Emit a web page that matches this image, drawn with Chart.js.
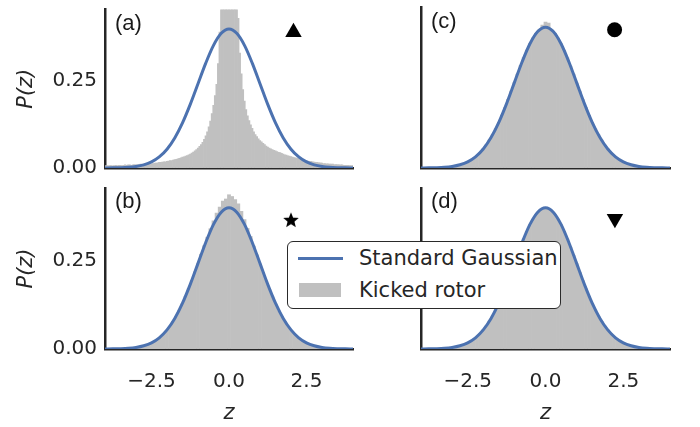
<!DOCTYPE html>
<html>
<head>
<meta charset="utf-8">
<script src="https://cdn.jsdelivr.net/npm/chart.js@4/dist/chart.umd.min.js"></script>
<style>
  body { margin: 0; background: #fff; }
  #wrap { position: relative; width: 700px; height: 427px; }
  #wrap canvas { position: absolute; left: 0; top: 0; }
  #legend {
    position: absolute; left: 287px; top: 241px; width: 272px; height: 66px;
    border: 1.2px solid #2a2a2a; border-radius: 6px; background: #fff;
    font-family: "DejaVu Sans"; font-size: 21px; color: #262626;
  }
  #legend .row { position: absolute; left: 71px; white-space: nowrap; line-height: 25px; }
  #legend .line { position: absolute; left: 10px; top: 15px; width: 45px; height: 3px; background: #4c72b0; }
  #legend .patch { position: absolute; left: 11px; top: 41px; width: 42px; height: 14px; background: #c0c0c0; }
</style>
</head>
<body>
<div id="wrap">
  <canvas id="ca" width="700" height="427"></canvas>
  <canvas id="cb" width="700" height="427"></canvas>
  <canvas id="cc" width="700" height="427"></canvas>
  <canvas id="cd" width="700" height="427"></canvas>
  <div id="legend">
    <div class="line"></div>
    <div class="row" style="top:4px">Standard Gaussian</div>
    <div class="patch"></div>
    <div class="row" style="top:36px">Kicked rotor</div>
  </div>
</div>
<script>
// histogram bin centres, step 0.1 (panels b, c, d)
const zBins = [-4.0, -3.9, -3.8, -3.7, -3.6, -3.5, -3.4, -3.3, -3.2, -3.1,
  -3.0, -2.9, -2.8, -2.7, -2.6, -2.5, -2.4, -2.3, -2.2, -2.1,
  -2.0, -1.9, -1.8, -1.7, -1.6, -1.5, -1.4, -1.3, -1.2, -1.1,
  -1.0, -0.9, -0.8, -0.7, -0.6, -0.5, -0.4, -0.3, -0.2, -0.1,
  0.0, 0.1, 0.2, 0.3, 0.4, 0.5, 0.6, 0.7, 0.8, 0.9,
  1.0, 1.1, 1.2, 1.3, 1.4, 1.5, 1.6, 1.7, 1.8, 1.9,
  2.0, 2.1, 2.2, 2.3, 2.4, 2.5, 2.6, 2.7, 2.8, 2.9,
  3.0, 3.1, 3.2, 3.3, 3.4, 3.5, 3.6, 3.7, 3.8, 3.9, 4.0];

// finer bin centres, step 0.05 (panel a, sharp peak)
const zBinsFine = [-4.00, -3.95, -3.90, -3.85, -3.80, -3.75, -3.70, -3.65, -3.60, -3.55,
  -3.50, -3.45, -3.40, -3.35, -3.30, -3.25, -3.20, -3.15, -3.10, -3.05,
  -3.00, -2.95, -2.90, -2.85, -2.80, -2.75, -2.70, -2.65, -2.60, -2.55,
  -2.50, -2.45, -2.40, -2.35, -2.30, -2.25, -2.20, -2.15, -2.10, -2.05,
  -2.00, -1.95, -1.90, -1.85, -1.80, -1.75, -1.70, -1.65, -1.60, -1.55,
  -1.50, -1.45, -1.40, -1.35, -1.30, -1.25, -1.20, -1.15, -1.10, -1.05,
  -1.00, -0.95, -0.90, -0.85, -0.80, -0.75, -0.70, -0.65, -0.60, -0.55,
  -0.50, -0.45, -0.40, -0.35, -0.30, -0.25, -0.20, -0.15, -0.10, -0.05,
  0.00, 0.05, 0.10, 0.15, 0.20, 0.25, 0.30, 0.35, 0.40, 0.45,
  0.50, 0.55, 0.60, 0.65, 0.70, 0.75, 0.80, 0.85, 0.90, 0.95,
  1.00, 1.05, 1.10, 1.15, 1.20, 1.25, 1.30, 1.35, 1.40, 1.45,
  1.50, 1.55, 1.60, 1.65, 1.70, 1.75, 1.80, 1.85, 1.90, 1.95,
  2.00, 2.05, 2.10, 2.15, 2.20, 2.25, 2.30, 2.35, 2.40, 2.45,
  2.50, 2.55, 2.60, 2.65, 2.70, 2.75, 2.80, 2.85, 2.90, 2.95,
  3.00, 3.05, 3.10, 3.15, 3.20, 3.25, 3.30, 3.35, 3.40, 3.45,
  3.50, 3.55, 3.60, 3.65, 3.70, 3.75, 3.80, 3.85, 3.90, 3.95, 4.00];

// kicked rotor histograms, one per panel
const histA = [.006, .007, .006, .007, .007, .006, .007, .008, .007, .008,
  .008, .007, .008, .009, .008, .009, .009, .008, .009, .010,
  .009, .010, .010, .011, .010, .011, .012, .011, .012, .013,
  .012, .013, .014, .014, .015, .016, .016, .017, .018, .018,
  .019, .020, .021, .021, .023, .024, .025, .026, .028, .029,
  .031, .032, .034, .036, .038, .040, .043, .046, .049, .053,
  .057, .062, .067, .074, .082, .092, .104, .118, .135, .156,
  .180, .208, .240, .300, .390, .520, .700, .950, 1.30, 1.70,
  1.90, 1.80, 1.50, 1.10, .800, .600, .430, .330, .270, .225,
  .192, .168, .150, .136, .124, .114, .104, .096, .090, .084,
  .079, .075, .071, .067, .063, .060, .057, .055, .053, .051,
  .049, .047, .045, .044, .042, .040, .038, .037, .035, .034,
  .033, .031, .030, .029, .028, .027, .026, .024, .023, .022,
  .021, .020, .019, .019, .018, .017, .016, .016, .015, .015,
  .014, .013, .013, .012, .012, .011, .011, .011, .010, .010,
  .010, .009, .009, .009, .008, .008, .008, .008, .007, .007, .007];
const histB = [.000, .000, .000, .001, .001, .001, .001, .002, .002, .003,
  .004, .006, .007, .010, .013, .017, .021, .027, .034, .043,
  .052, .064, .078, .092, .110, .128, .149, .171, .193, .218,
  .241, .268, .292, .316, .340, .362, .384, .401, .418, .424,
  .436, .431, .422, .410, .389, .366, .341, .318, .291, .266,
  .240, .216, .192, .169, .147, .127, .108, .092, .077, .064,
  .052, .043, .034, .027, .021, .016, .013, .010, .007, .005,
  .004, .003, .002, .002, .001, .001, .001, .000, .000, .000, .000];
const histC = [.000, .000, .000, .000, .001, .001, .001, .002, .002, .003,
  .004, .006, .008, .010, .014, .018, .022, .028, .036, .044,
  .054, .066, .079, .094, .111, .129, .150, .171, .195, .218,
  .242, .266, .290, .313, .334, .353, .369, .382, .392, .405,
  .414, .411, .392, .382, .368, .352, .333, .312, .289, .266,
  .241, .218, .194, .171, .149, .129, .111, .094, .079, .065,
  .054, .044, .035, .028, .022, .017, .013, .010, .008, .006,
  .004, .003, .002, .002, .001, .001, .001, .000, .000, .000, .000];
const histD = [.000, .000, .000, .000, .001, .001, .001, .002, .002, .003,
  .004, .006, .008, .010, .013, .017, .022, .028, .035, .044,
  .054, .065, .079, .093, .110, .129, .149, .171, .193, .217,
  .241, .265, .288, .311, .332, .351, .367, .380, .389, .395,
  .397, .395, .389, .380, .367, .351, .332, .311, .288, .265,
  .241, .217, .193, .170, .149, .129, .110, .093, .078, .065,
  .054, .044, .035, .028, .022, .017, .013, .010, .008, .006,
  .004, .003, .002, .002, .001, .001, .001, .000, .000, .000, .000];

// standard gaussian curve
const gaussZ = [-4, -3.75, -3.5, -3.25, -3, -2.75, -2.5, -2.25, -2, -1.75, -1.5, -1.25, -1, -0.75, -0.5, -0.25,
  0, 0.25, 0.5, 0.75, 1, 1.25, 1.5, 1.75, 2, 2.25, 2.5, 2.75, 3, 3.25, 3.5, 3.75, 4];
const gaussP = [0.0001, 0.0004, 0.0009, 0.0020, 0.0044, 0.0091, 0.0175, 0.0317, 0.0540, 0.0863, 0.1295, 0.1826,
  0.2420, 0.3011, 0.3521, 0.3867, 0.3989, 0.3867, 0.3521, 0.3011, 0.2420, 0.1826, 0.1295, 0.0863, 0.0540,
  0.0317, 0.0175, 0.0091, 0.0044, 0.0020, 0.0009, 0.0004, 0.0001];

// panel markers (a, b, c, d)
const markerZ = [2.08, 2.0, 2.22, 2.23];
const markerP = [0.39, 0.365, 0.392, 0.368];

const xTicks = [-2.5, 0, 2.5];
const xTickLabels = ['\u22122.5', '0.0', '2.5'];
const yTicks = [0, 0.25];
const yTickLabels = ['0.00', '0.25'];

Chart.defaults.font.family = 'DejaVu Sans';
Chart.defaults.color = '#262626';

const ink = '#262626';

function starImage() {
  const c = document.createElement('canvas');
  c.width = 18; c.height = 18;
  const g = c.getContext('2d');
  g.beginPath();
  for (let i = 0; i < 10; i++) {
    const r = i % 2 ? 3.6 : 8.2;
    const a = -Math.PI / 2 + i * Math.PI / 5;
    g.lineTo(9 + r * Math.cos(a), 9.6 + r * Math.sin(a));
  }
  g.closePath();
  g.fillStyle = '#000';
  g.fill();
  return c;
}

const panelLabel = {
  id: 'panelLabel',
  afterDraw(chart, args, opts) {
    const { ctx, chartArea } = chart;
    ctx.save();
    ctx.font = '22px "Liberation Sans"';
    ctx.fillStyle = '#1a1a1a';
    ctx.textBaseline = 'middle';
    ctx.fillText(opts.text, chartArea.left + 10, chartArea.top + 14);
    ctx.restore();
  }
};

function makePanel(id, p) {
  const pts = (xs, ys) => xs.map((x, i) => ({ x: x, y: ys[i] }));
  new Chart(document.getElementById(id), {
    type: 'bar',
    data: {
      datasets: [
        { type: 'line', data: pts(gaussZ, gaussP), borderColor: '#4c72b0', borderWidth: 3,
          pointRadius: 0, cubicInterpolationMode: 'monotone', order: 0 },
        { type: 'scatter', data: [{ x: markerZ[p.m], y: markerP[p.m] }], pointStyle: p.style,
          pointRadius: p.radius, pointRotation: p.rot, backgroundColor: '#000', borderWidth: 0, order: 0 },
        { type: 'bar', data: pts(p.bins, p.hist), backgroundColor: '#c0c0c0', borderWidth: 0,
          barPercentage: 1, categoryPercentage: 1, clip: 0, order: 1 }
      ]
    },
    options: {
      responsive: false,
      animation: false,
      events: [],
      layout: { padding: p.pad },
      plugins: { legend: { display: false }, tooltip: { enabled: false }, panelLabel: { text: p.label } },
      scales: {
        x: {
          type: 'linear', min: -4, max: 4, offset: false,
          grid: { display: false, drawTicks: false },
          border: { color: ink, width: 2.5 },
          ticks: { display: p.showX, padding: 21, font: { size: 20 }, color: ink, autoSkip: false, maxRotation: 0,
            callback: (v, i) => xTickLabels[i] },
          afterBuildTicks: s => { s.ticks = xTicks.map(v => ({ value: v })); },
          afterFit: s => { s.height = p.xH; s.paddingLeft = 0; s.paddingRight = 0; },
          title: { display: p.showX, text: 'z', font: { size: 21, style: 'italic' }, color: ink, padding: { top: 0, bottom: 1 } }
        },
        y: {
          min: 0, max: 0.455,
          grid: { display: false, drawTicks: false },
          border: { color: ink, width: 2.5 },
          ticks: { display: p.showY, padding: 8, font: { size: 20 }, color: ink, autoSkip: false,
            callback: (v, i) => yTickLabels[i] },
          afterBuildTicks: s => { s.ticks = yTicks.map(v => ({ value: v })); },
          afterFit: s => { s.width = p.yW; s.paddingTop = 0; s.paddingBottom = 0; },
          title: { display: p.showY, text: 'P(z)', font: { size: 21, style: 'italic' }, color: ink, padding: { top: 14, bottom: 0 } }
        }
      }
    },
    plugins: [panelLabel]
  });
}

makePanel('ca', { label: '(a)', bins: zBinsFine, hist: histA, m: 0, style: 'triangle', radius: 9.5, rot: 0,
  pad: { left: 0, top: 5, right: 347, bottom: 259 }, yW: 105, xH: 0, showX: false, showY: true });
makePanel('cb', { label: '(b)', bins: zBins, hist: histB, m: 1, style: starImage(), radius: 7, rot: 0,
  pad: { left: 0, top: 188, right: 347, bottom: 0 }, yW: 105, xH: 78, showX: true, showY: true });
makePanel('cc', { label: '(c)', bins: zBins, hist: histC, m: 2, style: 'circle', radius: 7.5, rot: 0,
  pad: { left: 360, top: 5, right: 30, bottom: 259 }, yW: 61, xH: 0, showX: false, showY: false });
makePanel('cd', { label: '(d)', bins: zBins, hist: histD, m: 3, style: 'triangle', radius: 9.5, rot: 180,
  pad: { left: 360, top: 188, right: 30, bottom: 0 }, yW: 61, xH: 78, showX: true, showY: false });
</script>
</body>
</html>
